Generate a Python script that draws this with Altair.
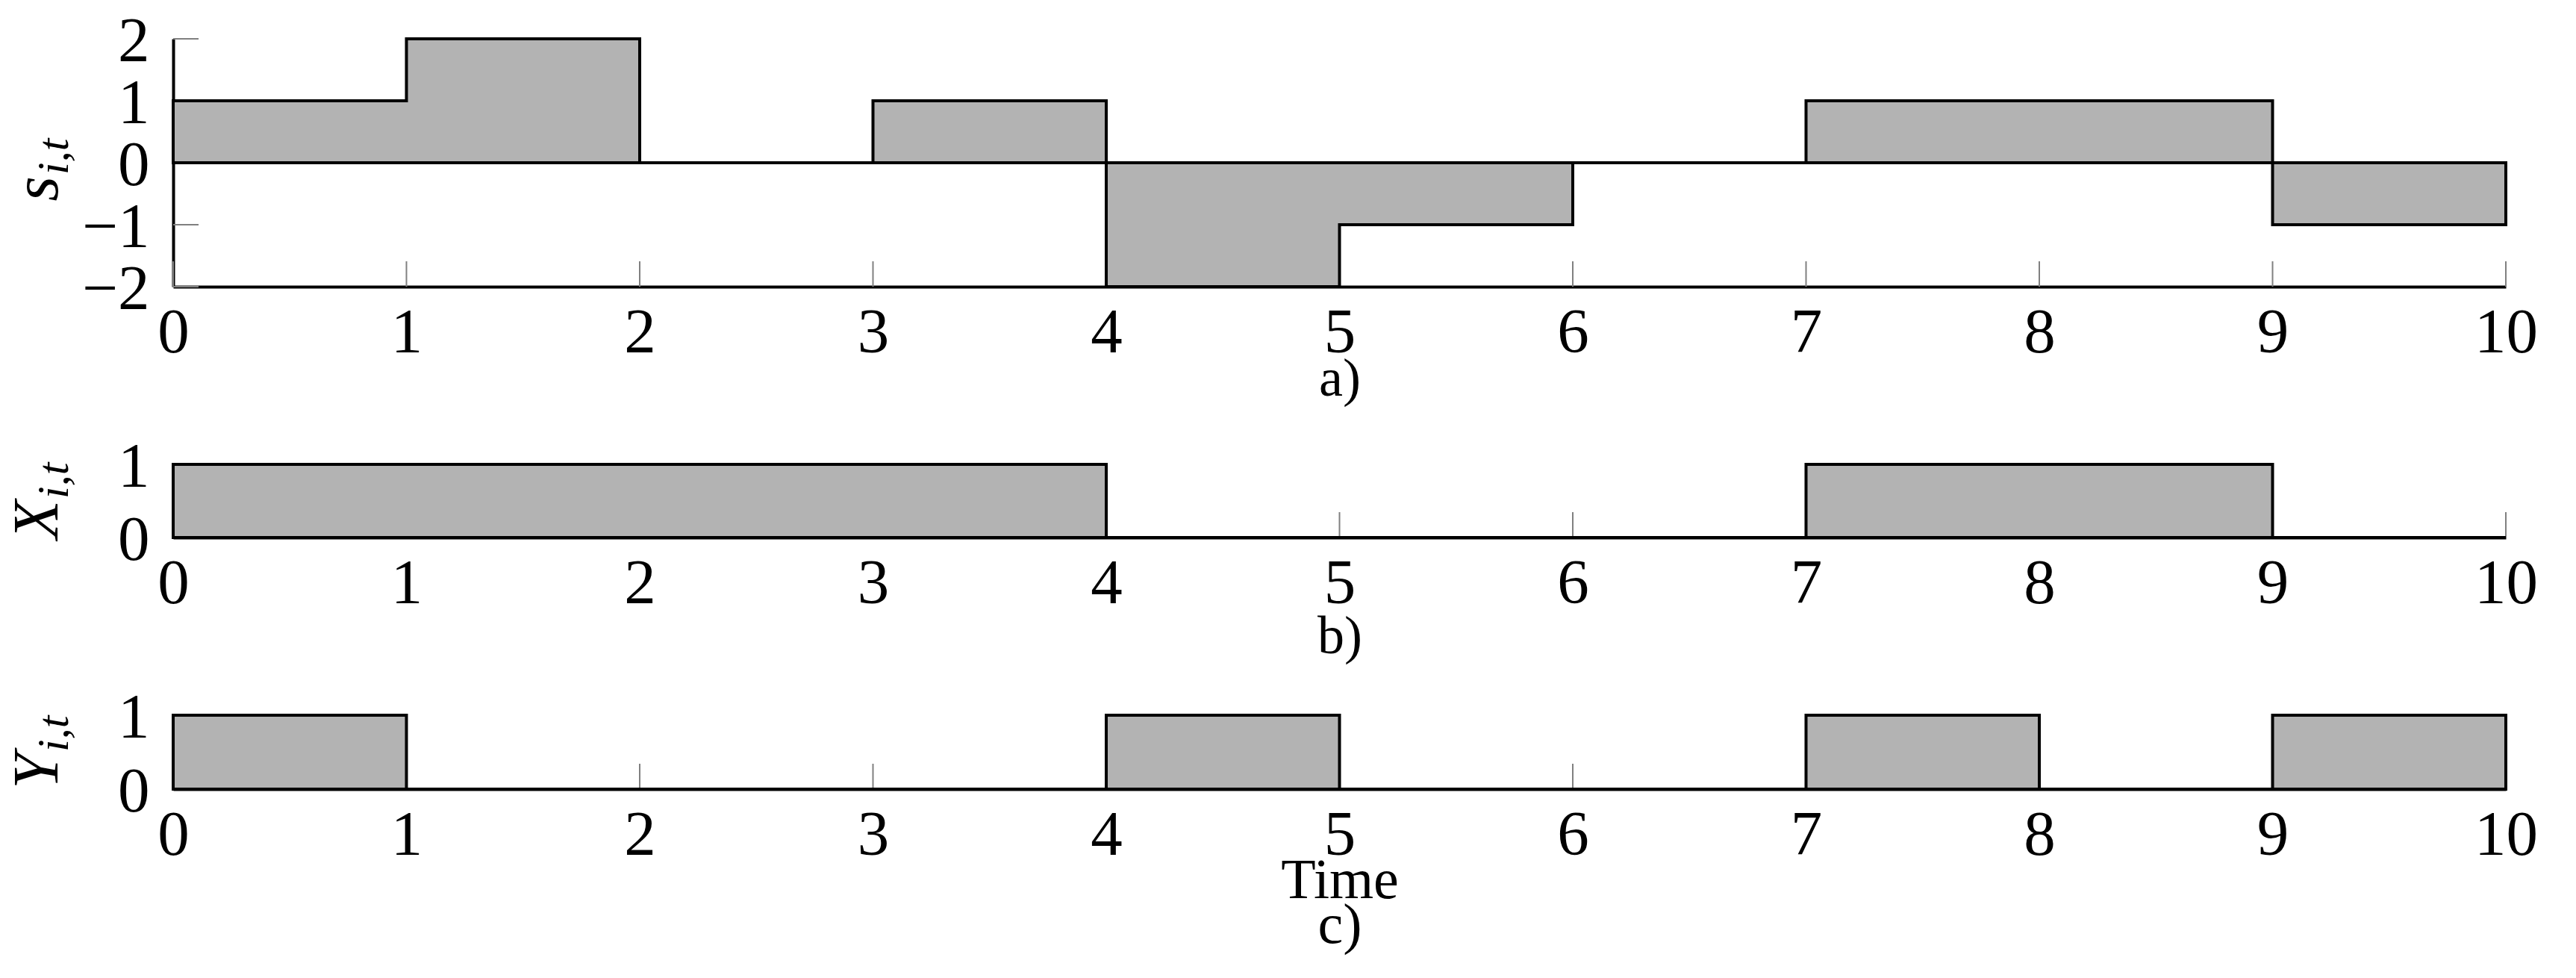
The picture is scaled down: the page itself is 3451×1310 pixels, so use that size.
import altair as alt
import pandas as pd

# ---- data (value holds on [t, t+1); final point repeats to close the step) ----
times = [0, 1, 2, 3, 4, 5, 6, 7, 8, 9, 10]
s_vals = [1, 2, 0, 1, -2, -1, 0, 1, 1, -1, -1]
x_vals = [1, 1, 1, 1, 0, 0, 0, 1, 1, 0, 0]
y_vals = [1, 0, 0, 0, 1, 0, 0, 1, 0, 1, 1]

x_ticks = [0, 1, 2, 3, 4, 5, 6, 7, 8, 9, 10]
y_ticks_a = [-2, -1, 0, 1, 2]
y_ticks_bc = [0, 1]

main_letters = ["s", "X", "Y"]
subscript = "i,t"
panel_titles = ["a)", "b)", ["Time", "c)"]]

FONT = "Liberation Serif"
W = 3125
TICK_LEN = 34
GRAY = "#808080"
FILL = "#b3b3b3"
LW = 4


def panel(vals, ydom, yticks, H, letter, split, xtitle, title_y, title_size):
    xs = alt.Scale(domain=[0, 10], nice=False, zero=False)
    ys = alt.Scale(domain=ydom, nice=False, zero=False)
    xaxis = alt.Axis(values=x_ticks, title=xtitle, titleY=title_y,
                     titleBaseline="alphabetic", titleLineHeight=60,
                     titleFontSize=title_size,
                     labelPadding=20, format="d")
    yaxis = alt.Axis(values=yticks, title=None, labelPadding=32,
                     labelOffset=3, format="d")

    xtick = alt.Chart(pd.DataFrame({"t": x_ticks})).mark_rule(
        color=GRAY, strokeWidth=2
    ).encode(
        x=alt.X("t:Q", scale=xs, axis=xaxis),
        y=alt.value(H), y2=alt.value(H - TICK_LEN),
    )
    ytick = alt.Chart(pd.DataFrame({"v": yticks})).mark_rule(
        color=GRAY, strokeWidth=2
    ).encode(
        y=alt.Y("v:Q", scale=ys, axis=yaxis),
        x=alt.value(0), x2=alt.value(TICK_LEN),
    )
    area = alt.Chart(pd.DataFrame({"t": times, "v": vals})).mark_area(
        interpolate="step-after", fill=FILL, fillOpacity=1,
        stroke="black", strokeWidth=LW, strokeJoin="miter"
    ).encode(
        x=alt.X("t:Q", scale=xs, axis=xaxis),
        y=alt.Y("v:Q", scale=ys, axis=yaxis),
        y2=alt.datum(0),
    )
    main_txt = alt.Chart(pd.DataFrame({"s": [letter]})).mark_text(
        angle=270, align="right", baseline="alphabetic", font=FONT,
        fontStyle="italic", fontSize=86, color="black"
    ).encode(text="s:N", x=alt.value(-155), y=alt.value(split))
    sub_txt = alt.Chart(pd.DataFrame({"s": [subscript]})).mark_text(
        angle=270, align="left", baseline="alphabetic", font=FONT,
        fontStyle="italic", fontSize=60, color="black"
    ).encode(text="s:N", x=alt.value(-141), y=alt.value(split - 2))
    return alt.layer(xtick, ytick, area, main_txt, sub_txt).properties(
        width=W, height=H
    )


pa = panel(s_vals, [-2, 2], y_ticks_a, 332, main_letters[0], 184, panel_titles[0], 145, 72)
pb = panel(x_vals, [0, 1], y_ticks_bc, 98, main_letters[1], 48, panel_titles[1], 154, 72)
pc = panel(y_vals, [0, 1], y_ticks_bc, 99, main_letters[2], 51, panel_titles[2], 145, 76)

chart = alt.vconcat(pa, pb, pc, spacing=238, bounds="flush").properties(
    padding={"left": 0, "top": 5, "right": 5, "bottom": 5}
).configure_view(
    strokeWidth=0
).configure_axis(
    grid=False, ticks=False, tickSize=0,
    domainColor="black", domainWidth=LW,
    labelFont=FONT, labelFontSize=85, labelColor="black",
    labelOverlap=False, labelFlush=False, labelBound=False,
    titleFont=FONT, titleFontWeight="normal", titleColor="black",
)

chart.save("out.html", embed_options={"renderer": "svg", "actions": False})
